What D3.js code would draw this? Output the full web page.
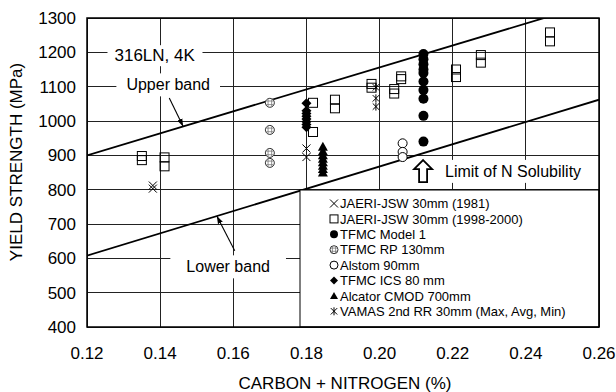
<!DOCTYPE html>
<html>
<head>
<meta charset="utf-8">
<script src="https://cdn.jsdelivr.net/npm/d3@7"></script>
<style>
  body { margin: 0; background: #fff; }
  text { font-family: Arial, "Liberation Sans", Helvetica, sans-serif; fill: #000; }
</style>
</head>
<body>
<svg id="chart" width="616" height="392"></svg>
<script>
// ---- data ----
const xTicks = [0.12, 0.14, 0.16, 0.18, 0.20, 0.22, 0.24, 0.26]
const yTicks = [400, 500, 600, 700, 800, 900, 1000, 1100, 1200, 1300]

const jaeri1981 = [[0.138, 812], [0.138, 803], [0.18, 920], [0.18, 895]]
const jaeri1998 = [
  [0.135, 898], [0.135, 886], [0.1412, 894], [0.1412, 868],
  [0.1818, 1053], [0.1818, 968], [0.1878, 1062], [0.1878, 1037],
  [0.1978, 1108], [0.1978, 1097], [0.204, 1093], [0.204, 1080],
  [0.2059, 1130], [0.2059, 1122], [0.2209, 1150], [0.2209, 1128],
  [0.2277, 1192], [0.2277, 1170], [0.2466, 1258], [0.2466, 1232]
]
const model1X = 0.212
const model1Y = [1195, 1180, 1165, 1150, 1140, 1115, 1090, 1065, 1015, 940]
const rp130X = 0.17
const rp130Y = [1053, 974, 907, 878]
const alstomX = 0.2063
const alstomY = [935, 910, 895]
const icsX = 0.18
const icsY = [1052, 1030, 1022, 1014, 1006, 998, 990, 982]
const alcatorX = 0.1845
const alcatorY = [925, 912, 900, 890, 880, 870, 860, 850]
const vamasX = 0.199
const vamasY = [1098, 1066, 1042]

const upperBand = [[0.12, 900], [0.26, 1348]]
const lowerBand = [[0.12, 608], [0.26, 1062]]

const legendNames = [
  'JAERI-JSW 30mm (1981)', 'JAERI-JSW 30mm (1998-2000)', 'TFMC Model 1',
  'TFMC RP 130mm', 'Alstom 90mm', 'TFMC ICS 80 mm', 'Alcator CMOD 700mm',
  'VAMAS 2nd RR 30mm (Max, Avg, Min)'
]
const legendSymbols = ['x', 'square', 'dot', 'rp', 'circle', 'diamond', 'triangle', 'asterisk']

// ---- layout ----
const margin = { top: 18, right: 17, bottom: 65, left: 87 }
const W = 616, H = 392
const width = W - margin.left - margin.right
const height = H - margin.top - margin.bottom

const svg = d3.select('#chart')
const g = svg.append('g').attr('transform', `translate(${margin.left},${margin.top})`)

const x = d3.scaleLinear([0.12, 0.26], [0, width])
const y = d3.scaleLinear([400, 1300], [height, 0])

// gridlines
g.append('g').selectAll('line').data(xTicks).join('line')
  .attr('x1', d => x(d)).attr('x2', d => x(d)).attr('y1', 0).attr('y2', height)
  .attr('stroke', '#222').attr('stroke-width', 1).style('shape-rendering', 'crispEdges')
g.append('g').selectAll('line').data(yTicks).join('line')
  .attr('y1', d => y(d)).attr('y2', d => y(d)).attr('x1', 0).attr('x2', width)
  .attr('stroke', '#222').attr('stroke-width', 1).style('shape-rendering', 'crispEdges')

// tick labels
g.append('g').selectAll('text').data(xTicks).join('text')
  .attr('x', d => x(d)).attr('y', height + 32)
  .attr('text-anchor', 'middle').style('font-size', '17px')
  .text(d => d3.format('.2f')(d))
g.append('g').selectAll('text').data(yTicks).join('text')
  .attr('x', -11).attr('y', d => y(d)).attr('dy', '0.36em')
  .attr('text-anchor', 'end').style('font-size', '17px')
  .text(d => d)

// axis titles
svg.append('text').attr('x', margin.left + width / 2 + 2).attr('y', 389)
  .attr('text-anchor', 'middle').style('font-size', '17px')
  .text('CARBON + NITROGEN (%)')
svg.append('text').attr('transform', 'translate(22,162) rotate(-90)')
  .attr('text-anchor', 'middle').style('font-size', '17px')
  .text('YIELD STRENGTH (MPa)')

// annotation labels with white background
function label (txt, vx, vy, anchor, size, padX, padY) {
  const grp = g.append('g')
  const t = grp.append('text').attr('x', x(vx)).attr('y', y(vy)).attr('dy', '0.36em')
    .attr('text-anchor', anchor).style('font-size', size + 'px').text(txt)
  const b = t.node().getBBox()
  grp.insert('rect', 'text')
    .attr('x', b.x - padX).attr('y', b.y - padY)
    .attr('width', b.width + 2 * padX).attr('height', b.height + 2 * padY)
    .attr('fill', '#fff')
}
label('316LN, 4K', 0.1385, 1192, 'middle', 17, 7, 1)
label('Upper band', 0.1422, 1106, 'middle', 16, 10, 3)
label('Lower band', 0.1586, 576, 'middle', 16, 16, 3)
label('Limit of N Solubility', 0.2179, 854, 'start', 16, 8, 3)

// band lines
g.append('defs').append('clipPath').attr('id', 'clip')
  .append('rect').attr('width', width).attr('height', height)
const line = d3.line().x(d => x(d[0])).y(d => y(d[1]))
const bands = g.append('g').attr('clip-path', 'url(#clip)')
;[upperBand, lowerBand].forEach(b => {
  bands.append('path').datum(b).attr('d', line)
    .attr('fill', 'none').attr('stroke', '#000').attr('stroke-width', 1.8)
})

// leader arrows to the bands
const defs = svg.append('defs')
defs.append('marker').attr('id', 'ah').attr('viewBox', '0 0 10 10')
  .attr('refX', 10).attr('refY', 5).attr('markerWidth', 7).attr('markerHeight', 7)
  .attr('orient', 'auto')
  .append('path').attr('d', 'M0,1.5L10,5L0,8.5Z').attr('fill', '#000')
function bandAt (b, vx) {
  const t = (vx - b[0][0]) / (b[1][0] - b[0][0])
  return b[0][1] + t * (b[1][1] - b[0][1])
}
const leaders = [
  { from: [0.1425, 1067], to: [0.1463, bandAt(upperBand, 0.1463)] },
  { from: [0.1604, 622], to: [0.1555, bandAt(lowerBand, 0.1555)] }
]
g.append('g').selectAll('line').data(leaders).join('line')
  .attr('x1', d => x(d.from[0])).attr('y1', d => y(d.from[1]))
  .attr('x2', d => x(d.to[0])).attr('y2', d => y(d.to[1]))
  .attr('stroke', '#000').attr('stroke-width', 1.1).attr('marker-end', 'url(#ah)')

// hollow block arrow for solubility limit
const arrowX = 0.2119, arrowY = 854
g.append('path')
  .attr('transform', `translate(${x(arrowX)},${y(arrowY)})`)
  .attr('d', 'M0,-11L9,-2L4,-2L4,11L-4,11L-4,-2L-9,-2Z')
  .attr('fill', '#fff').attr('stroke', '#000').attr('stroke-width', 1.8)
  .attr('stroke-linejoin', 'miter')

// ---- symbols ----
function drawSymbol (sel, type, s) {
  const h = s / 2
  if (type === 'square') {
    sel.append('rect').attr('x', -h).attr('y', -h).attr('width', s).attr('height', s)
      .attr('fill', '#fff').attr('fill-opacity', 0).attr('stroke', '#000').attr('stroke-width', 1)
  } else if (type === 'x') {
    sel.append('path').attr('d', `M${-h},${-h}L${h},${h}M${-h},${h}L${h},${-h}`)
      .attr('stroke', '#000').attr('stroke-width', 1).attr('fill', 'none')
  } else if (type === 'dot') {
    sel.append('circle').attr('r', h).attr('fill', '#000')
  } else if (type === 'circle') {
    sel.append('circle').attr('r', h).attr('fill', '#fff').attr('stroke', '#000').attr('stroke-width', 1)
  } else if (type === 'rp') {
    sel.append('circle').attr('r', h).attr('fill', '#fff').attr('stroke', '#333').attr('stroke-width', 1)
    const q = h * 0.4
    sel.append('path')
      .attr('d', `M${-q},${-h * 0.85}V${h * 0.85}M${q},${-h * 0.85}V${h * 0.85}M${-h * 0.85},${-q}H${h * 0.85}M${-h * 0.85},${q}H${h * 0.85}`)
      .attr('stroke', '#777').attr('stroke-width', 0.8)
  } else if (type === 'diamond') {
    sel.append('path').attr('d', `M0,${-h}L${h},0L0,${h}L${-h},0Z`).attr('fill', '#000')
  } else if (type === 'triangle') {
    sel.append('path').attr('d', `M0,${-h}L${h},${h * 0.8}L${-h},${h * 0.8}Z`).attr('fill', '#000')
  } else if (type === 'asterisk') {
    sel.append('path')
      .attr('d', `M${-h * 0.8},${-h * 0.8}L${h * 0.8},${h * 0.8}M${-h * 0.8},${h * 0.8}L${h * 0.8},${-h * 0.8}M0,${-h}V${h}`)
      .attr('stroke', '#000').attr('stroke-width', 1).attr('fill', 'none')
  }
}

function plotSeries (pts, type, s) {
  g.append('g').selectAll('g').data(pts).join('g')
    .attr('transform', d => `translate(${x(d[0])},${y(d[1])})`)
    .each(function () { drawSymbol(d3.select(this), type, s) })
}
plotSeries(jaeri1998, 'square', 9)
plotSeries(jaeri1981, 'x', 8)
plotSeries(rp130Y.map(v => [rp130X, v]), 'rp', 9)
plotSeries(alstomY.map(v => [alstomX, v]), 'circle', 9)
plotSeries(icsY.map(v => [icsX, v]), 'diamond', 10)
plotSeries(alcatorY.map(v => [alcatorX, v]), 'triangle', 10)
plotSeries(model1Y.map(v => [model1X, v]), 'dot', 10)
plotSeries(vamasY.map(v => [vamasX, v]), 'asterisk', 8)

// ---- legend ----
const lg = g.append('g').attr('transform', `translate(${300 - margin.left},${190 - margin.top})`)
const lw = width - (300 - margin.left), lh = height - (190 - margin.top)
lg.append('rect').attr('width', lw).attr('height', lh)
  .attr('fill', '#fff').attr('stroke', '#000').attr('stroke-width', 1)
const items = lg.selectAll('g.item').data(legendNames).join('g')
  .attr('class', 'item')
  .attr('transform', (d, i) => `translate(34,${13.5 + i * 15.4})`)
items.each(function (d, i) { drawSymbol(d3.select(this), legendSymbols[i], 8) })
items.append('text').attr('x', 6).attr('dy', '0.36em')
  .style('font-size', '13px').text(d => d)

// plot border
g.append('rect').attr('width', width).attr('height', height)
  .attr('fill', 'none').attr('stroke', '#000').attr('stroke-width', 1.5)
</script>
</body>
</html>
